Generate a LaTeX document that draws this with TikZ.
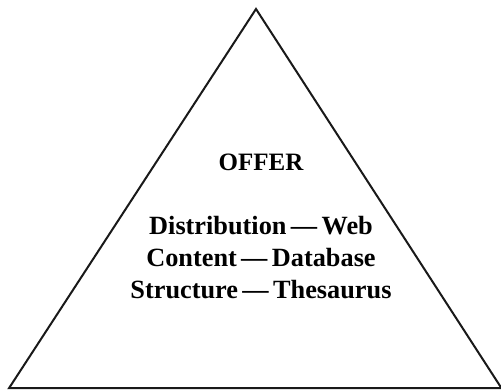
\documentclass[tikz,border=0pt]{standalone}
\usepackage{fontspec}
\setmainfont{Liberation Serif}
\usetikzlibrary{positioning}

\begin{document}
\begin{tikzpicture}[
  x=1pt, y=1pt,
  edge/.style={line width=2pt, line join=miter, color=black!90},
  title/.style={font=\fontsize{25}{30}\selectfont\bfseries, inner sep=0pt},
  pairs/.style={font=\fontsize{26.3}{32}\selectfont\bfseries, align=center, inner sep=0pt}
]
  \useasboundingbox (0,0) rectangle (501,390);

  % Triangle corners
  \coordinate (apex) at (256,381);
  \coordinate (left) at (9,1.8);
  \coordinate (right) at (501.5,1.8);

  % Triangle
  \draw[edge] (left) -- (apex) -- (right) -- cycle;

  % Texts
  \node[title] (offer) at (261,228) {OFFER};
  \node[pairs, below=45pt of offer] (pairs) {Distribution\,---\,Web\\Content\,---\,Database\\Structure\,---\,Thesaurus};
\end{tikzpicture}
\end{document}
